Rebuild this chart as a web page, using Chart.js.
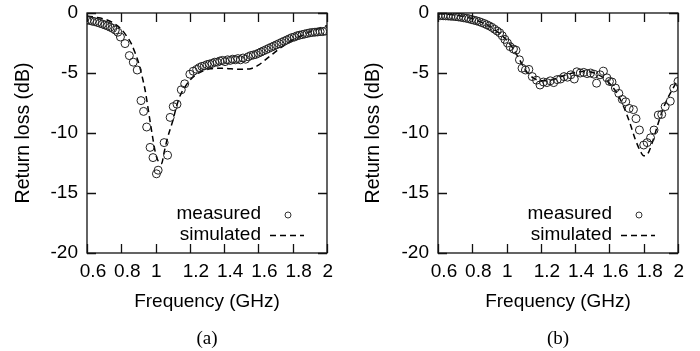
<!DOCTYPE html>
<html>
<head>
<meta charset="utf-8">
<script src="https://cdn.jsdelivr.net/npm/chart.js@4/dist/chart.umd.min.js"></script>
<style>
  body { margin: 0; background: #fff; }
  #wrap { position: relative; width: 700px; height: 351px; }
  .panel { position: absolute; top: 0; width: 350px; height: 351px; }
  .cap { position: absolute; top: 327px; width: 240px; text-align: center;
         font: 19px "Liberation Serif", serif; line-height: 22px; color: #000; }
</style>
</head>
<body>
<div id="wrap">
  <div class="panel" style="left:0"><canvas id="chartA" width="350" height="351"></canvas><div class="cap" style="left:87px">(a)</div></div>
  <div class="panel" style="left:350px"><canvas id="chartB" width="350" height="351"></canvas><div class="cap" style="left:88px">(b)</div></div>
</div>
<script>
// axis ticks
const xTicks = [0.6, 0.8, 1.0, 1.2, 1.4, 1.6, 1.8, 2.0];
const xTickLabels = ['0.6', '0.8', '1', '1.2', '1.4', '1.6', '1.8', '2'];
const yTicks = [0, -5, -10, -15, -20];
const yTickLabels = ['0', '-5', '-10', '-15', '-20'];

// (a) measured
const measAFreq = [0.600, 0.615, 0.630, 0.645, 0.660, 0.675, 0.690, 0.705, 0.720, 0.735, 0.750, 0.765, 0.780, 0.795,
  0.822, 0.847, 0.870, 0.893, 0.915, 0.930, 0.948, 0.968, 0.985, 1.005, 1.015, 1.050, 1.070, 1.085, 1.103, 1.125,
  1.150, 1.170, 1.200, 1.220, 1.240, 1.255, 1.270, 1.285, 1.300, 1.315, 1.330, 1.345, 1.360, 1.375, 1.390, 1.405,
  1.420, 1.435, 1.450, 1.465, 1.480, 1.495, 1.510, 1.525, 1.540, 1.555, 1.570, 1.585, 1.600, 1.615, 1.630, 1.645,
  1.660, 1.675, 1.690, 1.705, 1.720, 1.735, 1.750, 1.765, 1.780, 1.795, 1.810, 1.825, 1.840, 1.855, 1.870, 1.885,
  1.900, 1.915, 1.930, 1.945, 1.960, 1.975, 1.990];
const measALoss = [-0.60, -0.62, -0.68, -0.72, -0.78, -0.85, -0.92, -1.00, -1.08, -1.18, -1.28, -1.42, -1.60, -2.00,
  -2.55, -3.55, -4.10, -4.75, -7.30, -8.20, -9.50, -11.20, -12.05, -13.40, -13.10, -10.80, -11.85, -8.70, -7.80, -7.60,
  -6.40, -5.90, -5.10, -4.85, -4.70, -4.55, -4.45, -4.40, -4.30, -4.25, -4.20, -4.10, -4.10, -4.00, -3.95, -4.05,
  -3.90, -3.95, -3.85, -3.90, -3.80, -3.90, -3.75, -3.85, -3.65, -3.55, -3.50, -3.45, -3.35, -3.25, -3.15, -3.05,
  -2.95, -2.85, -2.75, -2.65, -2.55, -2.45, -2.35, -2.25, -2.15, -2.05, -2.00, -1.90, -1.85, -1.80, -1.75, -1.70,
  -1.65, -1.62, -1.60, -1.58, -1.55, -1.55, -1.50];

// (a) simulated
const simAFreq = [0.60, 0.65, 0.70, 0.75, 0.80, 0.83, 0.86, 0.88, 0.90, 0.92, 0.94, 0.96, 0.98, 1.00, 1.02, 1.035,
  1.05, 1.07, 1.10, 1.12, 1.14, 1.17, 1.20, 1.24, 1.28, 1.32, 1.36, 1.40, 1.44, 1.48, 1.52, 1.56, 1.60, 1.64, 1.68,
  1.72, 1.76, 1.80, 1.84, 1.88, 1.92, 1.96, 2.00];
const simALoss = [-0.25, -0.35, -0.50, -0.80, -1.35, -1.90, -2.60, -3.30, -4.10, -5.20, -6.50, -8.30, -10.10, -11.70,
  -12.45, -12.55, -11.60, -10.40, -9.00, -7.90, -7.00, -6.20, -5.60, -5.10, -4.80, -4.65, -4.60, -4.62, -4.65, -4.68,
  -4.68, -4.62, -4.35, -3.90, -3.45, -3.00, -2.60, -2.25, -1.95, -1.70, -1.45, -1.25, -1.05];

// (b) measured
const measBFreq = [0.600, 0.615, 0.630, 0.645, 0.660, 0.675, 0.690, 0.705, 0.720, 0.735, 0.750, 0.765, 0.780, 0.795,
  0.810, 0.825, 0.840, 0.855, 0.870, 0.885, 0.900, 0.915, 0.930, 0.945, 0.960, 0.975, 0.990, 1.005, 1.020, 1.040,
  1.055, 1.075, 1.090, 1.110, 1.130, 1.150, 1.175, 1.195, 1.215, 1.235, 1.255, 1.275, 1.295, 1.315, 1.335, 1.355,
  1.375, 1.395, 1.410, 1.430, 1.450, 1.470, 1.490, 1.510, 1.525, 1.545, 1.565, 1.585, 1.600, 1.615, 1.635, 1.655,
  1.675, 1.695, 1.715, 1.740, 1.755, 1.775, 1.800, 1.820, 1.840, 1.860, 1.885, 1.905, 1.925, 1.955, 1.975, 2.000];
const measBLoss = [-0.22, -0.22, -0.23, -0.24, -0.25, -0.27, -0.28, -0.30, -0.33, -0.36, -0.40, -0.44, -0.48, -0.55,
  -0.60, -0.65, -0.72, -0.80, -0.88, -0.98, -1.08, -1.20, -1.35, -1.50, -1.65, -1.90, -2.20, -2.50, -2.80, -3.00,
  -3.10, -3.90, -4.60, -4.75, -4.70, -5.30, -5.60, -6.00, -5.75, -5.80, -5.65, -5.80, -5.55, -5.50, -5.30, -5.35,
  -5.15, -5.50, -4.90, -5.00, -4.95, -5.05, -5.00, -5.10, -5.85, -5.15, -4.85, -5.40, -5.70, -5.75, -6.25, -6.70,
  -7.20, -7.40, -7.95, -8.05, -8.80, -9.75, -11.00, -10.80, -10.40, -9.75, -8.50, -8.45, -7.80, -7.35, -6.25, -5.70];

// (b) simulated
const simBFreq = [0.60, 0.65, 0.70, 0.75, 0.80, 0.85, 0.90, 0.95, 1.00, 1.04, 1.08, 1.12, 1.16, 1.20, 1.24, 1.28,
  1.32, 1.36, 1.40, 1.44, 1.48, 1.52, 1.56, 1.60, 1.64, 1.68, 1.72, 1.75, 1.78, 1.80, 1.82, 1.85, 1.88, 1.91, 1.94,
  1.97, 2.00];
const simBLoss = [-0.05, -0.10, -0.18, -0.30, -0.48, -0.75, -1.10, -1.60, -2.25, -3.00, -4.00, -4.95, -5.45, -5.65,
  -5.65, -5.50, -5.30, -5.10, -4.95, -4.88, -4.90, -5.05, -5.35, -5.85, -6.60, -7.70, -9.20, -10.50, -11.50, -11.90,
  -11.80, -10.80, -9.40, -8.10, -7.10, -6.30, -5.55];

const legendLabels = ['measured', 'simulated'];

const FONT = 'Liberation Sans';
const toXY = (xs, ys) => xs.map((v, i) => ({ x: v, y: ys[i] }));

// box + inward ticks on all four sides, and the inside legend
const framePlugin = {
  id: 'frame',
  afterDatasetsDraw(chart) {
    const { ctx, chartArea: a, scales: { x, y } } = chart;
    ctx.save();
    ctx.strokeStyle = '#111';
    ctx.lineWidth = 1.3;
    ctx.strokeRect(a.left, a.top, a.width, a.height);
    ctx.beginPath();
    xTicks.forEach(v => {
      const px = Math.round(x.getPixelForValue(v)) + 0.5;
      ctx.moveTo(px, a.bottom); ctx.lineTo(px, a.bottom - 9);
      ctx.moveTo(px, a.top); ctx.lineTo(px, a.top + 9);
    });
    yTicks.forEach(v => {
      const py = Math.round(y.getPixelForValue(v)) + 0.5;
      ctx.moveTo(a.left, py); ctx.lineTo(a.left + 9, py);
      ctx.moveTo(a.right, py); ctx.lineTo(a.right - 9, py);
    });
    ctx.stroke();

    // legend
    ctx.fillStyle = '#000';
    ctx.font = '19px "' + FONT + '"';
    ctx.textAlign = 'right';
    ctx.textBaseline = 'middle';
    const tx = a.left + 174;
    ctx.fillText(legendLabels[0], tx, a.top + 201);
    ctx.fillText(legendLabels[1], tx, a.top + 222);
    ctx.lineWidth = 1;
    ctx.strokeStyle = '#333';
    ctx.beginPath();
    ctx.arc(a.left + 201, a.top + 202, 3, 0, Math.PI * 2);
    ctx.stroke();
    ctx.lineWidth = 1.4;
    ctx.strokeStyle = '#000';
    ctx.setLineDash([6, 4]);
    ctx.beginPath();
    ctx.moveTo(a.left + 183, a.top + 222.5);
    ctx.lineTo(a.left + 217, a.top + 222.5);
    ctx.stroke();
    ctx.restore();
  }
};

function makeChart(id, meas, sim, padRight, yWidth) {
  return new Chart(document.getElementById(id), {
    type: 'scatter',
    data: {
      datasets: [{
        label: legendLabels[0],
        data: meas,
        showLine: false,
        pointStyle: 'circle',
        pointRadius: 4,
        pointBorderWidth: 1,
        pointBorderColor: '#222',
        pointBackgroundColor: 'rgba(0,0,0,0)'
      }, {
        label: legendLabels[1],
        data: sim,
        showLine: true,
        pointRadius: 0,
        borderColor: '#000',
        borderWidth: 1.5,
        borderDash: [6, 4],
        cubicInterpolationMode: 'monotone'
      }]
    },
    options: {
      responsive: false,
      animation: false,
      layout: { padding: { left: 0, right: padRight, top: 13, bottom: 28 } },
      plugins: { legend: { display: false }, tooltip: { enabled: false } },
      scales: {
        x: {
          type: 'linear', min: 0.6, max: 2,
          grid: { display: false, drawTicks: false },
          border: { display: false },
          afterBuildTicks: s => { s.ticks = xTicks.map(v => ({ value: v })); },
          afterFit: s => { s.height = 70; s.paddingLeft = 0; s.paddingRight = 0; },
          ticks: {
            color: '#000', padding: 7, maxRotation: 0, autoSkip: false, labelOffset: 6,
            font: { family: FONT, size: 19 },
            // whole-number labels sit centred on their tick in the original
            callback: (v, i) => xTickLabels[i].includes('.') ? xTickLabels[i] : xTickLabels[i] + '  '
          },
          title: {
            display: true, text: 'Frequency (GHz)', color: '#000',
            font: { family: FONT, size: 19 }, padding: { top: 0, bottom: 10 }
          }
        },
        y: {
          min: -20, max: 0,
          grid: { display: false, drawTicks: false },
          border: { display: false },
          afterBuildTicks: s => { s.ticks = yTicks.map(v => ({ value: v })); },
          afterFit: s => { s.width = yWidth; s.paddingTop = 0; s.paddingBottom = 0; },
          ticks: {
            color: '#000', padding: 9,
            font: { family: FONT, size: 19 },
            callback: (v, i) => yTickLabels[i]
          },
          title: {
            display: true, text: 'Return loss (dB)', color: '#000',
            font: { family: FONT, size: 19.5 }, padding: { top: 12, bottom: 0 }
          }
        }
      }
    },
    plugins: [framePlugin]
  });
}

makeChart('chartA', toXY(measAFreq, measALoss), toXY(simAFreq, simALoss), 23, 87);
makeChart('chartB', toXY(measBFreq, measBLoss), toXY(simBFreq, simBLoss), 22, 88);
</script>
</body>
</html>
